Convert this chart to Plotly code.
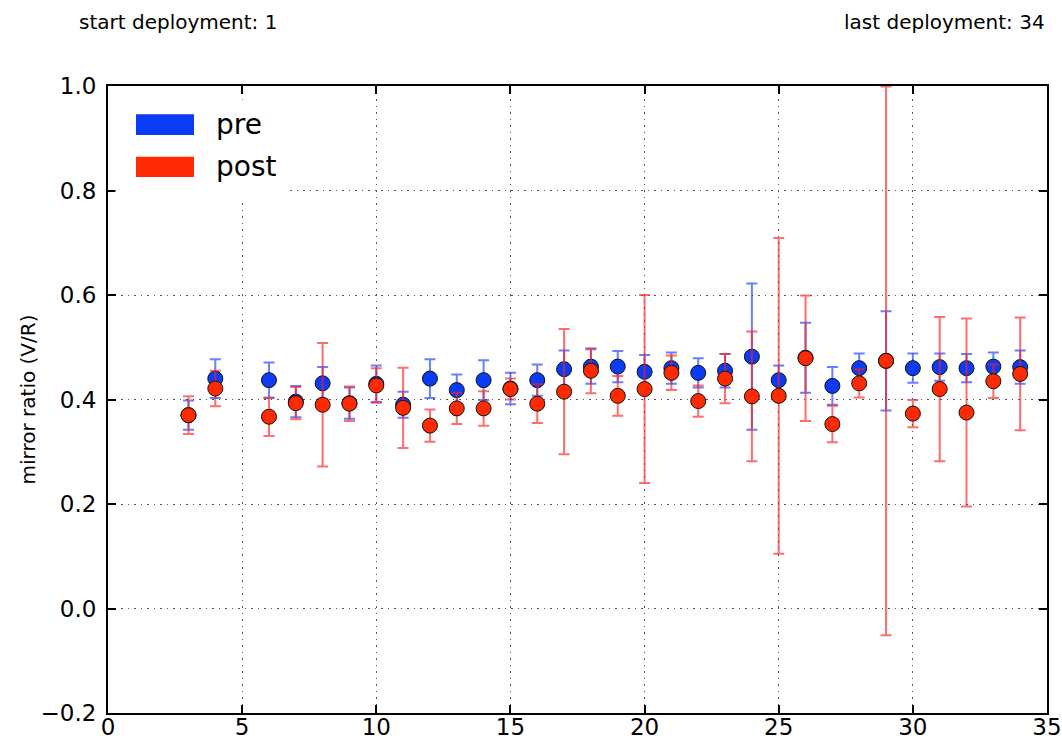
import plotly.graph_objects as go

# deployment numbers
deployment = [3, 4, 6, 7, 8, 9, 10, 11, 12, 13, 14, 15, 16, 17, 18, 19, 20,
              21, 22, 23, 24, 25, 26, 27, 28, 29, 30, 31, 32, 33, 34]

# mirror ratio before cleaning and its uncertainty
pre_ratio = [0.370, 0.440, 0.437, 0.396, 0.431, 0.393, 0.430, 0.390, 0.440, 0.418,
             0.437, 0.421, 0.437, 0.458, 0.463, 0.463, 0.453, 0.460, 0.451, 0.455,
             0.482, 0.437, 0.480, 0.426, 0.460, 0.474, 0.460, 0.462, 0.460, 0.463,
             0.462]
pre_err = [0.028, 0.037, 0.034, 0.030, 0.031, 0.030, 0.035, 0.025, 0.037, 0.030,
           0.038, 0.030, 0.030, 0.036, 0.033, 0.030, 0.032, 0.030, 0.028, 0.032,
           0.140, 0.028, 0.067, 0.036, 0.028, 0.095, 0.028, 0.026, 0.027, 0.027,
           0.032]

# mirror ratio after cleaning and its uncertainty
post_ratio = [0.370, 0.421, 0.367, 0.393, 0.390, 0.392, 0.427, 0.384, 0.350, 0.383,
              0.383, 0.420, 0.392, 0.415, 0.455, 0.407, 0.420, 0.451, 0.397, 0.440,
              0.406, 0.407, 0.479, 0.353, 0.431, 0.474, 0.373, 0.420, 0.375, 0.435,
              0.449]
post_err = [0.036, 0.034, 0.037, 0.031, 0.118, 0.033, 0.033, 0.077, 0.031, 0.030,
            0.033, 0.020, 0.037, 0.120, 0.043, 0.038, 0.180, 0.033, 0.030, 0.047,
            0.124, 0.302, 0.120, 0.035, 0.027, 0.525, 0.026, 0.138, 0.180, 0.032,
            0.108]

x_ticks = [0, 5, 10, 15, 20, 25, 30, 35]
y_ticks = [-0.2, 0.0, 0.2, 0.4, 0.6, 0.8, 1.0]

series_names = ["pre", "post"]
marker_colors = ["#0A3CF5", "#FF2A00"]
bar_colors = ["rgba(20,60,255,0.65)", "rgba(255,30,30,0.65)"]

FONT = "DejaVu Sans"

fig = go.Figure()
for name, y, err, mcol, ecol in zip(series_names,
                                    [pre_ratio, post_ratio],
                                    [pre_err, post_err],
                                    marker_colors, bar_colors):
    fig.add_trace(go.Scatter(
        x=deployment, y=y, mode="markers", name=name, showlegend=False,
        marker=dict(size=15, color=mcol, line=dict(color="#111111", width=1)),
        error_y=dict(type="data", array=err, visible=True,
                     color=ecol, thickness=2, width=5.5),
        cliponaxis=False,
    ))

axis_common = dict(
    showline=True, linecolor="black", linewidth=2, mirror="ticks",
    ticks="inside", ticklen=8, tickwidth=1.5, tickcolor="black",
    showgrid=True, gridcolor="#555555", gridwidth=1.3, griddash="1.5px,5px",
    zeroline=False, automargin=False,
    tickfont=dict(family=FONT, size=23, color="black"),
)

fig.update_xaxes(range=[0, 35], tickvals=x_ticks,
                 ticktext=[str(v) for v in x_ticks],
                 ticklabelstandoff=-8, **axis_common)
fig.update_yaxes(range=[-0.2, 1.0], tickvals=y_ticks,
                 ticktext=[f"{v:.1f}".replace("-", "\u2212") for v in y_ticks],
                 ticklabelstandoff=5,
                 title=dict(text="mirror ratio (V/R)", standoff=0,
                            font=dict(family=FONT, size=20, color="black")),
                 **axis_common)

# legend box with colour patches
shapes = [
    dict(type="rect", xref="paper", yref="paper", x0=0.008, x1=0.194,
         y0=0.815, y1=0.978, fillcolor="white", line=dict(width=0), layer="above"),
]
annotations = []
patch_rows = [(0.955, 0.922, 0.9386), (0.887, 0.855, 0.871)]
for (y_top, y_bot, y_txt), name, col in zip(patch_rows, series_names, marker_colors):
    shapes.append(dict(type="rect", xref="paper", yref="paper",
                       x0=0.0298, x1=0.0916, y0=y_bot, y1=y_top,
                       fillcolor=col, line=dict(width=0), layer="above"))
    annotations.append(dict(text=name, xref="paper", yref="paper",
                            x=0.113, y=y_txt, xanchor="left", yanchor="middle",
                            showarrow=False,
                            font=dict(family=FONT, size=28, color="black")))

annotations += [
    dict(text="start deployment: 1", xref="paper", yref="paper",
         x=-0.033, y=1.102, xanchor="left", yanchor="middle", showarrow=False,
         font=dict(family=FONT, size=20, color="black")),
    dict(text="last deployment: 34", xref="paper", yref="paper",
         x=1.0, y=1.102, xanchor="right", yanchor="middle", showarrow=False,
         font=dict(family=FONT, size=20, color="black")),
]

fig.update_layout(
    width=1062, height=738,
    margin=dict(l=108, r=15, t=86, b=25, pad=0),
    paper_bgcolor="white", plot_bgcolor="white",
    font=dict(family=FONT, color="black"),
    shapes=shapes, annotations=annotations,
    showlegend=False,
)

fig.write_html("out.html")
